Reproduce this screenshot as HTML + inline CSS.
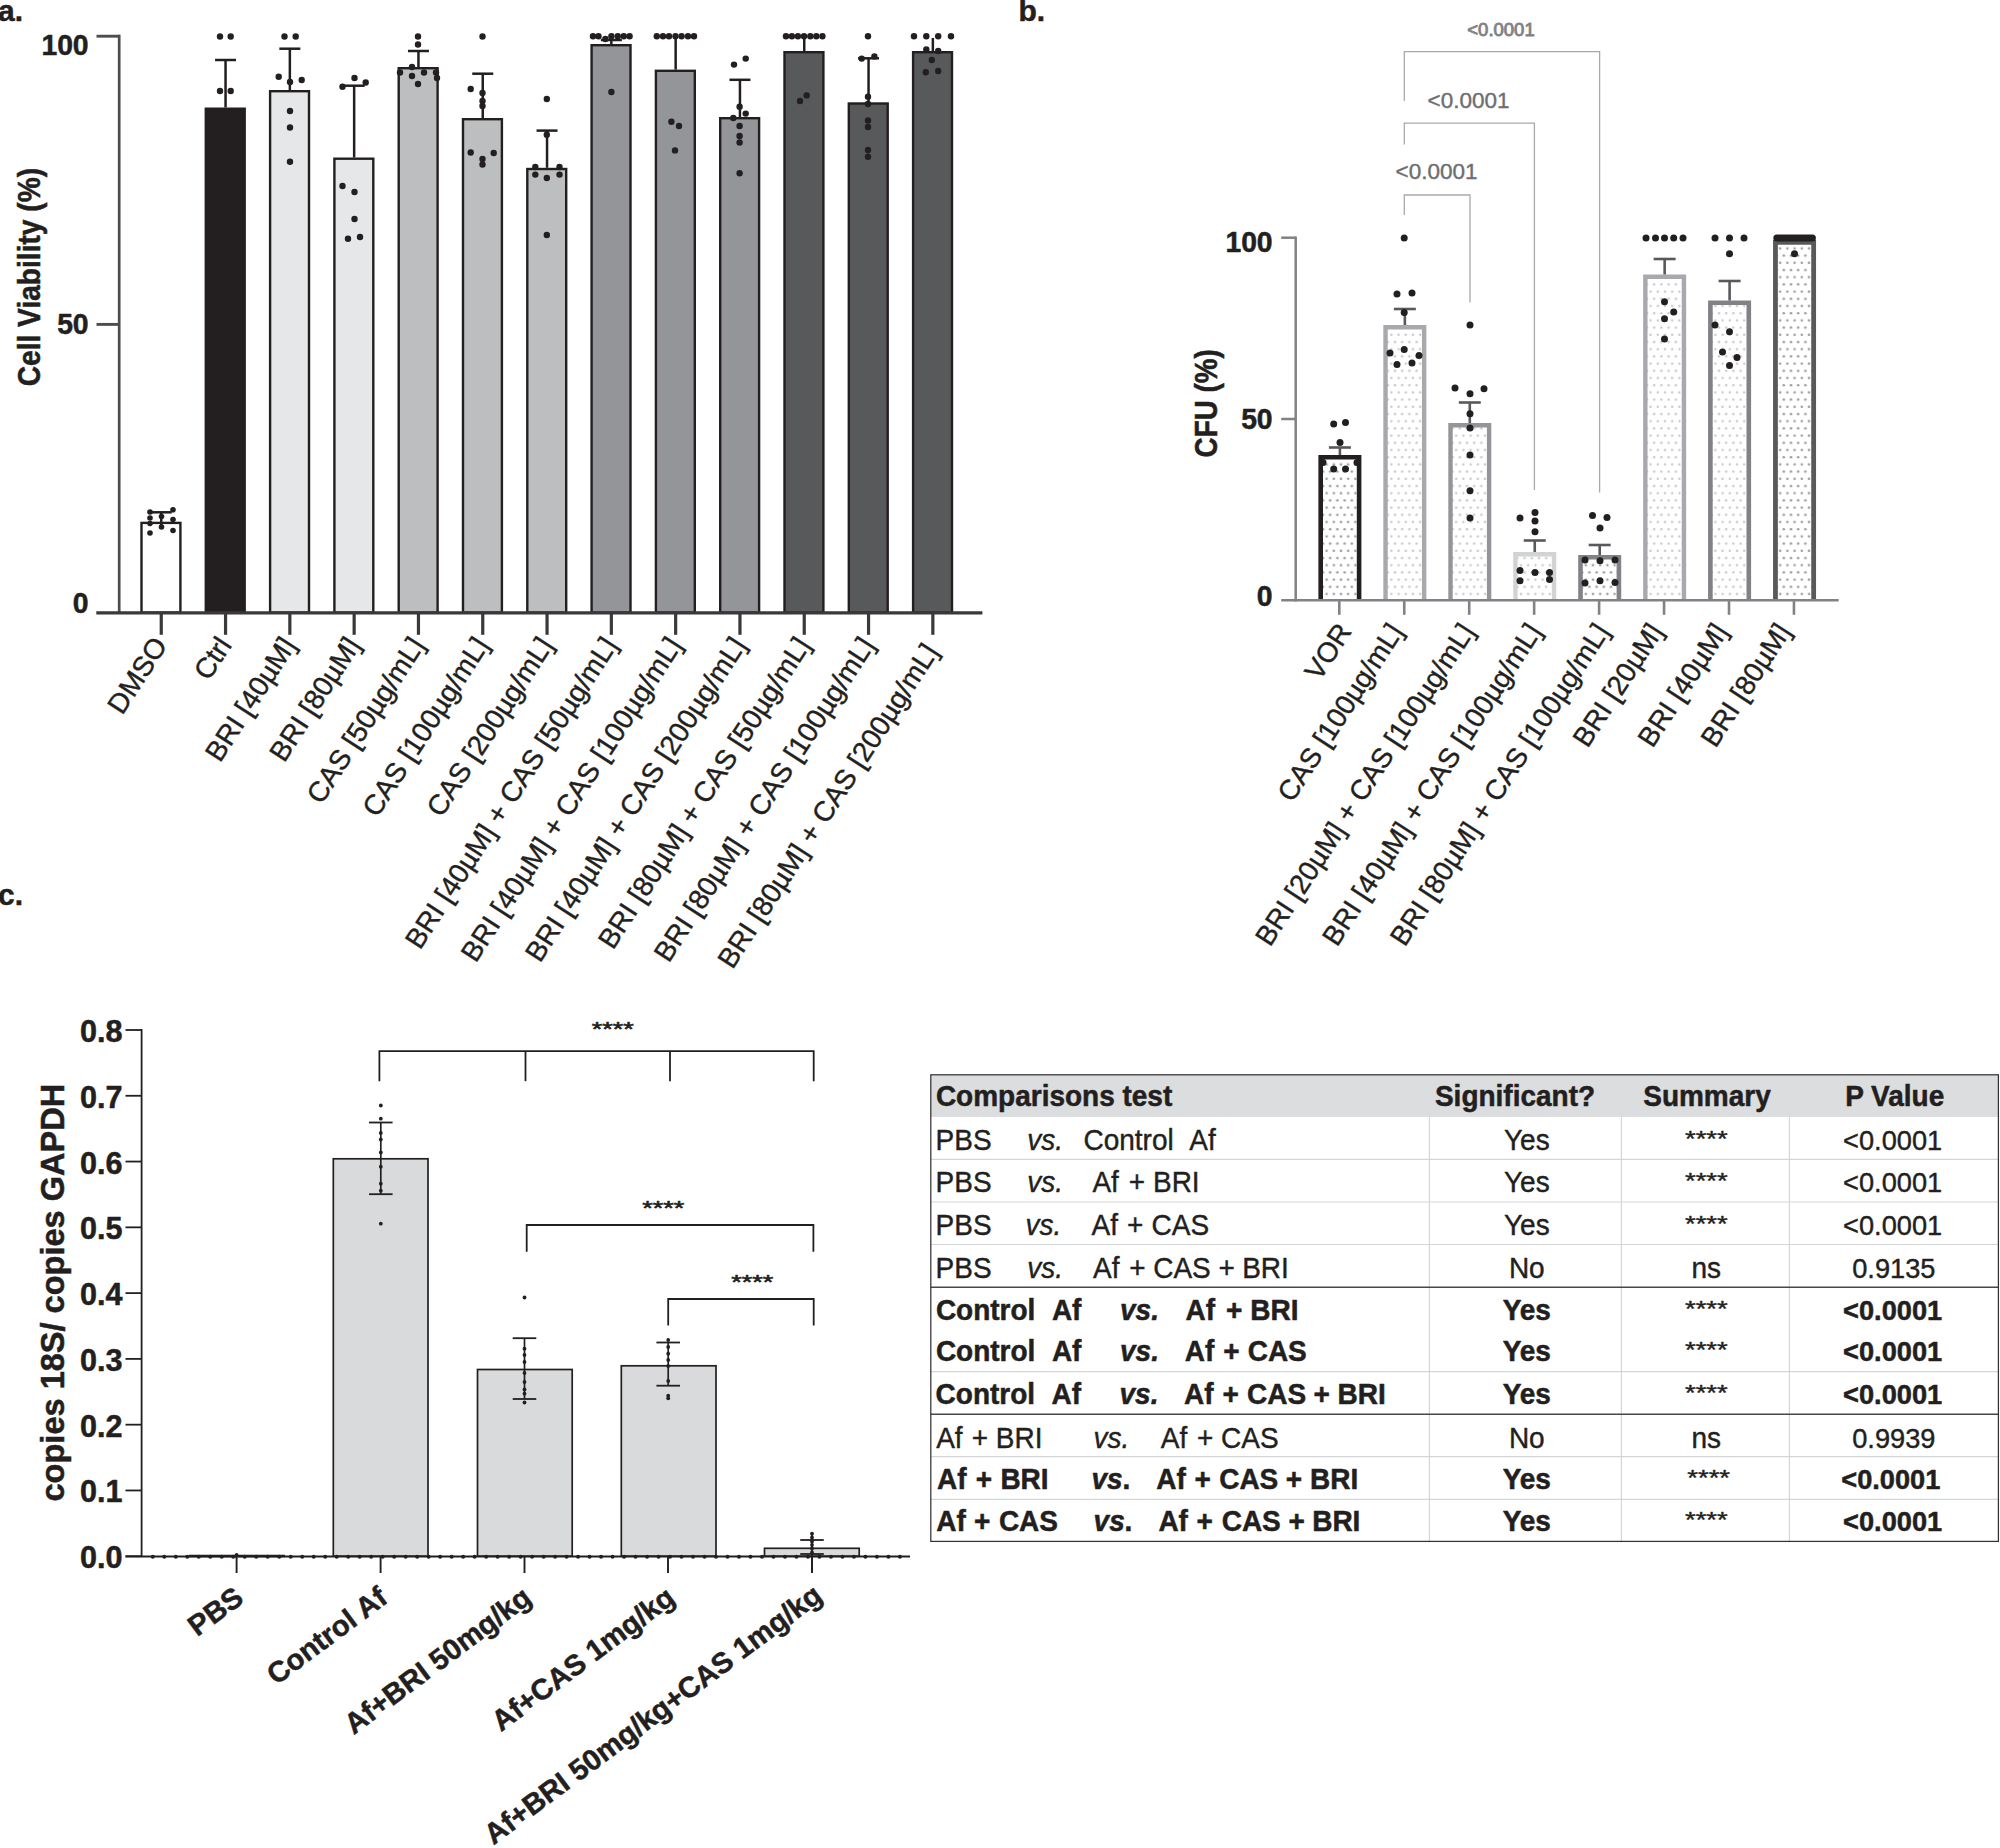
<!DOCTYPE html>
<html lang="en"><head><meta charset="utf-8"><title>Figure</title>
<style>html,body{margin:0;padding:0;background:#fff;}svg{display:block;}text{font-family:"Liberation Sans",sans-serif;}</style></head>
<body>
<svg width="2000" height="1848" viewBox="0 0 2000 1848">
<defs><pattern id="dl" width="7.2" height="14.4" patternUnits="userSpaceOnUse"><rect width="7.2" height="14.4" fill="#fff"/><circle cx="1.8" cy="3.6" r="1.25" fill="#c9cacc"/><circle cx="5.4" cy="10.8" r="1.25" fill="#c9cacc"/></pattern><pattern id="dd" width="7.2" height="14.4" patternUnits="userSpaceOnUse"><rect width="7.2" height="14.4" fill="#fff"/><circle cx="1.8" cy="3.6" r="1.3" fill="#9b9da0"/><circle cx="5.4" cy="10.8" r="1.3" fill="#9b9da0"/></pattern></defs>
<rect width="2000" height="1848" fill="#fff"/>
<g id="panel-a">
<text x="-2.00" y="20.50" font-size="30" font-weight="bold" fill="#231f20"  stroke="#231f20" stroke-width="0.5" stroke-linejoin="round">a.</text>
<text transform="translate(39.90 386.30) rotate(-90) scale(1 1.1)" font-size="28.15" font-weight="bold" fill="#231f20"  stroke="#231f20" stroke-width="0.5" stroke-linejoin="round">Cell Viability (%)</text>
<text transform="translate(88.60 54.60) scale(1 1.04)" font-size="28.3" font-weight="bold" text-anchor="end" fill="#231f20"  stroke="#231f20" stroke-width="0.5" stroke-linejoin="round">100</text>
<text transform="translate(88.60 333.80) scale(1 1.04)" font-size="28.3" font-weight="bold" text-anchor="end" fill="#231f20"  stroke="#231f20" stroke-width="0.5" stroke-linejoin="round">50</text>
<text transform="translate(88.60 613.20) scale(1 1.04)" font-size="28.3" font-weight="bold" text-anchor="end" fill="#231f20"  stroke="#231f20" stroke-width="0.5" stroke-linejoin="round">0</text>
<rect x="141.50" y="522.90" width="38.90" height="89.70" fill="#ffffff" stroke="#231f20" stroke-width="2.4"/>
<rect x="205.80" y="108.70" width="38.90" height="503.90" fill="#231f20" stroke="#231f20" stroke-width="2.4"/>
<rect x="270.10" y="91.20" width="38.90" height="521.40" fill="#e6e7e8" stroke="#231f20" stroke-width="2.4"/>
<rect x="334.40" y="158.70" width="38.90" height="453.90" fill="#e6e7e8" stroke="#231f20" stroke-width="2.4"/>
<rect x="398.70" y="68.20" width="38.90" height="544.40" fill="#bcbec0" stroke="#231f20" stroke-width="2.4"/>
<rect x="463.00" y="119.20" width="38.90" height="493.40" fill="#bcbec0" stroke="#231f20" stroke-width="2.4"/>
<rect x="527.30" y="169.00" width="38.90" height="443.60" fill="#bcbec0" stroke="#231f20" stroke-width="2.4"/>
<rect x="591.60" y="45.20" width="38.90" height="567.40" fill="#939598" stroke="#231f20" stroke-width="2.4"/>
<rect x="655.90" y="70.80" width="38.90" height="541.80" fill="#939598" stroke="#231f20" stroke-width="2.4"/>
<rect x="720.20" y="118.20" width="38.90" height="494.40" fill="#939598" stroke="#231f20" stroke-width="2.4"/>
<rect x="784.50" y="52.20" width="38.90" height="560.40" fill="#58595b" stroke="#231f20" stroke-width="2.4"/>
<rect x="848.80" y="103.50" width="38.90" height="509.10" fill="#58595b" stroke="#231f20" stroke-width="2.4"/>
<rect x="913.10" y="52.20" width="38.90" height="560.40" fill="#58595b" stroke="#231f20" stroke-width="2.4"/>
<line x1="161.25" y1="512.30" x2="161.25" y2="527.00" stroke="#231f20" stroke-width="2.5" />
<line x1="150.75" y1="512.30" x2="171.75" y2="512.30" stroke="#231f20" stroke-width="2.5" />
<line x1="161.25" y1="612.60" x2="161.25" y2="634.80" stroke="#39383a" stroke-width="3.2" />
<text transform="translate(168.25 645.20) rotate(-57)" font-size="28.1" text-anchor="end" fill="#231f20"  stroke="#231f20" stroke-width="0.4" stroke-linejoin="round">DMSO</text>
<line x1="225.55" y1="60.00" x2="225.55" y2="107.50" stroke="#231f20" stroke-width="2.5" />
<line x1="215.05" y1="60.00" x2="236.05" y2="60.00" stroke="#231f20" stroke-width="2.5" />
<line x1="225.55" y1="612.60" x2="225.55" y2="634.80" stroke="#39383a" stroke-width="3.2" />
<text transform="translate(232.55 645.20) rotate(-57)" font-size="28.1" text-anchor="end" fill="#231f20"  stroke="#231f20" stroke-width="0.4" stroke-linejoin="round">Ctrl</text>
<line x1="289.85" y1="48.70" x2="289.85" y2="90.00" stroke="#231f20" stroke-width="2.5" />
<line x1="279.35" y1="48.70" x2="300.35" y2="48.70" stroke="#231f20" stroke-width="2.5" />
<line x1="289.85" y1="612.60" x2="289.85" y2="634.80" stroke="#39383a" stroke-width="3.2" />
<text transform="translate(296.85 645.20) rotate(-57)" font-size="28.1" text-anchor="end" fill="#231f20"  stroke="#231f20" stroke-width="0.4" stroke-linejoin="round">BRI [40µM]</text>
<line x1="354.15" y1="85.70" x2="354.15" y2="157.50" stroke="#231f20" stroke-width="2.5" />
<line x1="343.65" y1="85.70" x2="364.65" y2="85.70" stroke="#231f20" stroke-width="2.5" />
<line x1="354.15" y1="612.60" x2="354.15" y2="634.80" stroke="#39383a" stroke-width="3.2" />
<text transform="translate(361.15 645.20) rotate(-57)" font-size="28.1" text-anchor="end" fill="#231f20"  stroke="#231f20" stroke-width="0.4" stroke-linejoin="round">BRI [80µM]</text>
<line x1="418.45" y1="51.00" x2="418.45" y2="67.00" stroke="#231f20" stroke-width="2.5" />
<line x1="407.95" y1="51.00" x2="428.95" y2="51.00" stroke="#231f20" stroke-width="2.5" />
<line x1="418.45" y1="612.60" x2="418.45" y2="634.80" stroke="#39383a" stroke-width="3.2" />
<text transform="translate(425.45 645.20) rotate(-57)" font-size="28.1" text-anchor="end" fill="#231f20"  stroke="#231f20" stroke-width="0.4" stroke-linejoin="round">CAS [50µg/mL]</text>
<line x1="482.75" y1="73.70" x2="482.75" y2="118.00" stroke="#231f20" stroke-width="2.5" />
<line x1="472.25" y1="73.70" x2="493.25" y2="73.70" stroke="#231f20" stroke-width="2.5" />
<line x1="482.75" y1="612.60" x2="482.75" y2="634.80" stroke="#39383a" stroke-width="3.2" />
<text transform="translate(489.75 645.20) rotate(-57)" font-size="28.1" text-anchor="end" fill="#231f20"  stroke="#231f20" stroke-width="0.4" stroke-linejoin="round">CAS [100µg/mL]</text>
<line x1="547.05" y1="130.60" x2="547.05" y2="167.80" stroke="#231f20" stroke-width="2.5" />
<line x1="536.55" y1="130.60" x2="557.55" y2="130.60" stroke="#231f20" stroke-width="2.5" />
<line x1="547.05" y1="612.60" x2="547.05" y2="634.80" stroke="#39383a" stroke-width="3.2" />
<text transform="translate(554.05 645.20) rotate(-57)" font-size="28.1" text-anchor="end" fill="#231f20"  stroke="#231f20" stroke-width="0.4" stroke-linejoin="round">CAS [200µg/mL]</text>
<line x1="611.35" y1="40.00" x2="611.35" y2="44.00" stroke="#231f20" stroke-width="2.5" />
<line x1="600.85" y1="40.00" x2="621.85" y2="40.00" stroke="#231f20" stroke-width="2.5" />
<line x1="611.35" y1="612.60" x2="611.35" y2="634.80" stroke="#39383a" stroke-width="3.2" />
<text transform="translate(618.35 645.20) rotate(-57)" font-size="28.1" text-anchor="end" fill="#231f20"  stroke="#231f20" stroke-width="0.4" stroke-linejoin="round">BRI [40µM] + CAS [50µg/mL]</text>
<line x1="675.65" y1="36.50" x2="675.65" y2="69.60" stroke="#231f20" stroke-width="2.5" />
<line x1="675.65" y1="612.60" x2="675.65" y2="634.80" stroke="#39383a" stroke-width="3.2" />
<text transform="translate(682.65 645.20) rotate(-57)" font-size="28.1" text-anchor="end" fill="#231f20"  stroke="#231f20" stroke-width="0.4" stroke-linejoin="round">BRI [40µM] + CAS [100µg/mL]</text>
<line x1="739.95" y1="79.80" x2="739.95" y2="117.00" stroke="#231f20" stroke-width="2.5" />
<line x1="729.45" y1="79.80" x2="750.45" y2="79.80" stroke="#231f20" stroke-width="2.5" />
<line x1="739.95" y1="612.60" x2="739.95" y2="634.80" stroke="#39383a" stroke-width="3.2" />
<text transform="translate(746.95 645.20) rotate(-57)" font-size="28.1" text-anchor="end" fill="#231f20"  stroke="#231f20" stroke-width="0.4" stroke-linejoin="round">BRI [40µM] + CAS [200µg/mL]</text>
<line x1="804.25" y1="36.50" x2="804.25" y2="51.00" stroke="#231f20" stroke-width="2.5" />
<line x1="804.25" y1="612.60" x2="804.25" y2="634.80" stroke="#39383a" stroke-width="3.2" />
<text transform="translate(811.25 645.20) rotate(-57)" font-size="28.1" text-anchor="end" fill="#231f20"  stroke="#231f20" stroke-width="0.4" stroke-linejoin="round">BRI [80µM] + CAS [50µg/mL]</text>
<line x1="868.55" y1="58.30" x2="868.55" y2="102.30" stroke="#231f20" stroke-width="2.5" />
<line x1="858.05" y1="58.30" x2="879.05" y2="58.30" stroke="#231f20" stroke-width="2.5" />
<line x1="868.55" y1="612.60" x2="868.55" y2="634.80" stroke="#39383a" stroke-width="3.2" />
<text transform="translate(875.55 645.20) rotate(-57)" font-size="28.1" text-anchor="end" fill="#231f20"  stroke="#231f20" stroke-width="0.4" stroke-linejoin="round">BRI [80µM] + CAS [100µg/mL]</text>
<line x1="932.85" y1="38.00" x2="932.85" y2="51.00" stroke="#231f20" stroke-width="2.5" />
<line x1="932.85" y1="612.60" x2="932.85" y2="634.80" stroke="#39383a" stroke-width="3.2" />
<text transform="translate(939.25 651.80) rotate(-57)" font-size="28.1" text-anchor="end" fill="#231f20"  stroke="#231f20" stroke-width="0.4" stroke-linejoin="round">BRI [80µM] + CAS [200µg/mL]</text>
<line x1="119.20" y1="34.80" x2="119.20" y2="614.10" stroke="#4d4d4f" stroke-width="2.7" />
<line x1="96.50" y1="36.20" x2="119.50" y2="36.20" stroke="#4d4d4f" stroke-width="2.9" />
<line x1="96.50" y1="324.40" x2="119.50" y2="324.40" stroke="#4d4d4f" stroke-width="2.9" />
<line x1="96.30" y1="612.80" x2="982.40" y2="612.80" stroke="#39383a" stroke-width="3.2" />
<circle cx="150.00" cy="512.00" r="2.8" fill="#231f20"/>
<circle cx="173.00" cy="509.80" r="2.8" fill="#231f20"/>
<circle cx="150.00" cy="518.00" r="2.8" fill="#231f20"/>
<circle cx="150.00" cy="523.50" r="2.8" fill="#231f20"/>
<circle cx="173.00" cy="519.50" r="2.8" fill="#231f20"/>
<circle cx="161.50" cy="516.50" r="2.8" fill="#231f20"/>
<circle cx="161.50" cy="527.00" r="2.8" fill="#231f20"/>
<circle cx="150.00" cy="533.00" r="2.8" fill="#231f20"/>
<circle cx="173.00" cy="530.50" r="2.8" fill="#231f20"/>
<circle cx="220.00" cy="36.50" r="3.2" fill="#231f20"/>
<circle cx="230.70" cy="36.50" r="3.2" fill="#231f20"/>
<circle cx="220.00" cy="91.00" r="3.2" fill="#231f20"/>
<circle cx="230.70" cy="91.00" r="3.2" fill="#231f20"/>
<circle cx="284.50" cy="36.50" r="3.2" fill="#231f20"/>
<circle cx="295.70" cy="36.50" r="3.2" fill="#231f20"/>
<circle cx="278.70" cy="76.70" r="3.2" fill="#231f20"/>
<circle cx="290.00" cy="82.00" r="3.2" fill="#231f20"/>
<circle cx="301.70" cy="80.00" r="3.2" fill="#231f20"/>
<circle cx="290.00" cy="111.00" r="3.2" fill="#231f20"/>
<circle cx="290.00" cy="127.50" r="3.2" fill="#231f20"/>
<circle cx="290.00" cy="161.70" r="3.2" fill="#231f20"/>
<circle cx="354.50" cy="78.00" r="3.2" fill="#231f20"/>
<circle cx="342.50" cy="86.70" r="3.2" fill="#231f20"/>
<circle cx="365.70" cy="82.50" r="3.2" fill="#231f20"/>
<circle cx="342.50" cy="186.00" r="3.2" fill="#231f20"/>
<circle cx="354.50" cy="192.00" r="3.2" fill="#231f20"/>
<circle cx="354.50" cy="219.00" r="3.2" fill="#231f20"/>
<circle cx="348.00" cy="238.70" r="3.2" fill="#231f20"/>
<circle cx="360.00" cy="237.00" r="3.2" fill="#231f20"/>
<circle cx="418.00" cy="36.50" r="3.2" fill="#231f20"/>
<circle cx="418.00" cy="44.50" r="3.2" fill="#231f20"/>
<circle cx="412.00" cy="67.00" r="3.2" fill="#231f20"/>
<circle cx="400.00" cy="72.50" r="3.2" fill="#231f20"/>
<circle cx="424.00" cy="72.50" r="3.2" fill="#231f20"/>
<circle cx="436.00" cy="72.50" r="3.2" fill="#231f20"/>
<circle cx="412.00" cy="76.00" r="3.2" fill="#231f20"/>
<circle cx="418.00" cy="84.00" r="3.2" fill="#231f20"/>
<circle cx="437.00" cy="78.00" r="3.2" fill="#231f20"/>
<circle cx="482.50" cy="36.50" r="3.2" fill="#231f20"/>
<circle cx="470.70" cy="89.00" r="3.2" fill="#231f20"/>
<circle cx="482.50" cy="93.00" r="3.2" fill="#231f20"/>
<circle cx="482.50" cy="101.00" r="3.2" fill="#231f20"/>
<circle cx="482.50" cy="106.00" r="3.2" fill="#231f20"/>
<circle cx="470.70" cy="152.50" r="3.2" fill="#231f20"/>
<circle cx="493.70" cy="153.00" r="3.2" fill="#231f20"/>
<circle cx="482.50" cy="159.00" r="3.2" fill="#231f20"/>
<circle cx="482.50" cy="164.50" r="3.2" fill="#231f20"/>
<circle cx="546.80" cy="99.00" r="3.2" fill="#231f20"/>
<circle cx="546.80" cy="134.80" r="3.2" fill="#231f20"/>
<circle cx="535.30" cy="167.00" r="3.2" fill="#231f20"/>
<circle cx="559.50" cy="167.00" r="3.2" fill="#231f20"/>
<circle cx="535.30" cy="174.60" r="3.2" fill="#231f20"/>
<circle cx="546.80" cy="178.00" r="3.2" fill="#231f20"/>
<circle cx="559.50" cy="174.60" r="3.2" fill="#231f20"/>
<circle cx="546.80" cy="235.00" r="3.2" fill="#231f20"/>
<circle cx="593.00" cy="36.30" r="3.2" fill="#231f20"/>
<circle cx="598.50" cy="36.30" r="3.2" fill="#231f20"/>
<circle cx="605.40" cy="39.00" r="3.2" fill="#231f20"/>
<circle cx="611.40" cy="36.30" r="3.2" fill="#231f20"/>
<circle cx="617.80" cy="36.30" r="3.2" fill="#231f20"/>
<circle cx="623.80" cy="36.30" r="3.2" fill="#231f20"/>
<circle cx="629.60" cy="36.30" r="3.2" fill="#231f20"/>
<circle cx="611.40" cy="92.00" r="3.2" fill="#231f20"/>
<circle cx="656.80" cy="36.30" r="3.2" fill="#231f20"/>
<circle cx="663.00" cy="36.30" r="3.2" fill="#231f20"/>
<circle cx="669.00" cy="36.30" r="3.2" fill="#231f20"/>
<circle cx="675.50" cy="36.30" r="3.2" fill="#231f20"/>
<circle cx="681.60" cy="36.30" r="3.2" fill="#231f20"/>
<circle cx="688.00" cy="36.30" r="3.2" fill="#231f20"/>
<circle cx="694.00" cy="36.30" r="3.2" fill="#231f20"/>
<circle cx="671.40" cy="121.80" r="3.2" fill="#231f20"/>
<circle cx="679.00" cy="126.00" r="3.2" fill="#231f20"/>
<circle cx="675.00" cy="150.40" r="3.2" fill="#231f20"/>
<circle cx="734.00" cy="64.60" r="3.2" fill="#231f20"/>
<circle cx="745.70" cy="58.60" r="3.2" fill="#231f20"/>
<circle cx="739.60" cy="106.70" r="3.2" fill="#231f20"/>
<circle cx="745.70" cy="113.60" r="3.2" fill="#231f20"/>
<circle cx="733.30" cy="118.00" r="3.2" fill="#231f20"/>
<circle cx="739.60" cy="126.00" r="3.2" fill="#231f20"/>
<circle cx="739.60" cy="136.00" r="3.2" fill="#231f20"/>
<circle cx="739.60" cy="142.50" r="3.2" fill="#231f20"/>
<circle cx="739.60" cy="173.30" r="3.2" fill="#231f20"/>
<circle cx="786.00" cy="36.30" r="3.2" fill="#231f20"/>
<circle cx="791.90" cy="36.30" r="3.2" fill="#231f20"/>
<circle cx="797.90" cy="36.30" r="3.2" fill="#231f20"/>
<circle cx="804.00" cy="36.30" r="3.2" fill="#231f20"/>
<circle cx="810.30" cy="36.30" r="3.2" fill="#231f20"/>
<circle cx="816.30" cy="36.30" r="3.2" fill="#231f20"/>
<circle cx="822.40" cy="36.30" r="3.2" fill="#231f20"/>
<circle cx="806.70" cy="95.40" r="3.2" fill="#231f20"/>
<circle cx="800.00" cy="101.00" r="3.2" fill="#231f20"/>
<circle cx="868.00" cy="36.30" r="3.2" fill="#231f20"/>
<circle cx="861.70" cy="58.60" r="3.2" fill="#231f20"/>
<circle cx="874.40" cy="56.40" r="3.2" fill="#231f20"/>
<circle cx="868.00" cy="96.80" r="3.2" fill="#231f20"/>
<circle cx="868.00" cy="104.00" r="3.2" fill="#231f20"/>
<circle cx="868.00" cy="120.50" r="3.2" fill="#231f20"/>
<circle cx="868.00" cy="127.00" r="3.2" fill="#231f20"/>
<circle cx="868.00" cy="150.00" r="3.2" fill="#231f20"/>
<circle cx="868.00" cy="156.80" r="3.2" fill="#231f20"/>
<circle cx="914.00" cy="36.30" r="3.2" fill="#231f20"/>
<circle cx="926.30" cy="36.30" r="3.2" fill="#231f20"/>
<circle cx="938.20" cy="36.30" r="3.2" fill="#231f20"/>
<circle cx="951.00" cy="36.30" r="3.2" fill="#231f20"/>
<circle cx="926.30" cy="49.50" r="3.2" fill="#231f20"/>
<circle cx="938.20" cy="51.00" r="3.2" fill="#231f20"/>
<circle cx="931.80" cy="60.00" r="3.2" fill="#231f20"/>
<circle cx="925.80" cy="72.30" r="3.2" fill="#231f20"/>
<circle cx="938.20" cy="71.00" r="3.2" fill="#231f20"/>
</g>
<g id="panel-b">
<text x="1018.50" y="20.50" font-size="30" font-weight="bold" fill="#231f20"  stroke="#231f20" stroke-width="0.5" stroke-linejoin="round">b.</text>
<text transform="translate(1217.10 457.40) rotate(-90) scale(1 1.1)" font-size="27.8" font-weight="bold" fill="#231f20"  stroke="#231f20" stroke-width="0.5" stroke-linejoin="round">CFU (%)</text>
<text transform="translate(1272.60 252.20) scale(1 1.04)" font-size="28.3" font-weight="bold" text-anchor="end" fill="#231f20"  stroke="#231f20" stroke-width="0.5" stroke-linejoin="round">100</text>
<text transform="translate(1272.60 428.90) scale(1 1.04)" font-size="28.3" font-weight="bold" text-anchor="end" fill="#231f20"  stroke="#231f20" stroke-width="0.5" stroke-linejoin="round">50</text>
<text transform="translate(1272.60 606.20) scale(1 1.04)" font-size="28.3" font-weight="bold" text-anchor="end" fill="#231f20"  stroke="#231f20" stroke-width="0.5" stroke-linejoin="round">0</text>
<polyline fill="none" stroke="#a7a9ac" stroke-width="1.3" points="1404.30,101.00 1404.30,51.70 1599.60,51.70 1599.60,492.50"/>
<polyline fill="none" stroke="#a7a9ac" stroke-width="1.3" points="1404.30,144.50 1404.30,123.20 1534.40,123.20 1534.40,490.00"/>
<polyline fill="none" stroke="#a7a9ac" stroke-width="1.3" points="1404.30,215.00 1404.30,195.00 1470.00,195.00 1470.00,302.50"/>
<text x="1501.00" y="36.20" font-size="18.5" text-anchor="middle" fill="#808285"  stroke="#808285" stroke-width="0.9" stroke-linejoin="round">&lt;0.0001</text>
<text x="1468.50" y="108.00" font-size="22.5" text-anchor="middle" fill="#6d6e71"  stroke="#6d6e71" stroke-width="0.4" stroke-linejoin="round">&lt;0.0001</text>
<text x="1436.50" y="178.70" font-size="22.5" text-anchor="middle" fill="#6d6e71"  stroke="#6d6e71" stroke-width="0.4" stroke-linejoin="round">&lt;0.0001</text>
<rect x="1320.70" y="457.30" width="38.40" height="143.00" fill="url(#dd)"/>
<polyline fill="none" stroke="#231f20" stroke-width="4.6" points="1320.70,600.30 1320.70,457.30 1359.10,457.30 1359.10,600.30"/>
<rect x="1385.55" y="327.20" width="38.60" height="273.10" fill="url(#dl)"/>
<polyline fill="none" stroke="#a7a9ac" stroke-width="4.4" points="1385.55,600.30 1385.55,327.20 1424.15,327.20 1424.15,600.30"/>
<rect x="1450.50" y="425.20" width="38.60" height="175.10" fill="url(#dl)"/>
<polyline fill="none" stroke="#939598" stroke-width="4.4" points="1450.50,600.30 1450.50,425.20 1489.10,425.20 1489.10,600.30"/>
<rect x="1515.45" y="554.20" width="38.60" height="46.10" fill="url(#dl)"/>
<polyline fill="none" stroke="#d1d3d4" stroke-width="4.4" points="1515.45,600.30 1515.45,554.20 1554.05,554.20 1554.05,600.30"/>
<rect x="1580.50" y="557.30" width="38.40" height="43.00" fill="url(#dd)"/>
<polyline fill="none" stroke="#808285" stroke-width="4.6" points="1580.50,600.30 1580.50,557.30 1618.90,557.30 1618.90,600.30"/>
<rect x="1645.35" y="276.70" width="38.60" height="323.60" fill="url(#dl)"/>
<polyline fill="none" stroke="#a7a9ac" stroke-width="4.4" points="1645.35,600.30 1645.35,276.70 1683.95,276.70 1683.95,600.30"/>
<rect x="1710.40" y="302.80" width="38.40" height="297.50" fill="url(#dl)"/>
<polyline fill="none" stroke="#808285" stroke-width="4.6" points="1710.40,600.30 1710.40,302.80 1748.80,302.80 1748.80,600.30"/>
<rect x="1775.45" y="242.40" width="38.20" height="357.90" fill="url(#dd)"/>
<polyline fill="none" stroke="#58595b" stroke-width="4.8" points="1775.45,600.30 1775.45,242.40 1813.65,242.40 1813.65,600.30"/>
<line x1="1339.90" y1="447.50" x2="1339.90" y2="455.00" stroke="#58595b" stroke-width="2.6" />
<line x1="1328.90" y1="447.50" x2="1350.90" y2="447.50" stroke="#58595b" stroke-width="2.6" />
<line x1="1339.30" y1="600.30" x2="1339.30" y2="614.80" stroke="#808285" stroke-width="2.6" />
<text transform="translate(1352.45 631.40) rotate(-57)" font-size="27.9" text-anchor="end" fill="#231f20"  stroke="#231f20" stroke-width="0.4" stroke-linejoin="round">VOR</text>
<line x1="1404.85" y1="309.00" x2="1404.85" y2="325.00" stroke="#58595b" stroke-width="2.6" />
<line x1="1393.85" y1="309.00" x2="1415.85" y2="309.00" stroke="#58595b" stroke-width="2.6" />
<line x1="1404.25" y1="600.30" x2="1404.25" y2="614.80" stroke="#808285" stroke-width="2.6" />
<text transform="translate(1404.10 631.40) rotate(-57)" font-size="27.9" text-anchor="end" fill="#231f20"  stroke="#231f20" stroke-width="0.4" stroke-linejoin="round">CAS [100µg/mL]</text>
<line x1="1469.80" y1="402.50" x2="1469.80" y2="423.00" stroke="#58595b" stroke-width="2.6" />
<line x1="1458.80" y1="402.50" x2="1480.80" y2="402.50" stroke="#58595b" stroke-width="2.6" />
<line x1="1469.20" y1="600.30" x2="1469.20" y2="614.80" stroke="#808285" stroke-width="2.6" />
<text transform="translate(1475.35 631.40) rotate(-57)" font-size="27.9" text-anchor="end" fill="#231f20"  stroke="#231f20" stroke-width="0.4" stroke-linejoin="round">BRI [20µM] + CAS [100µg/mL]</text>
<line x1="1534.75" y1="540.50" x2="1534.75" y2="552.00" stroke="#58595b" stroke-width="2.6" />
<line x1="1523.75" y1="540.50" x2="1545.75" y2="540.50" stroke="#58595b" stroke-width="2.6" />
<line x1="1534.15" y1="600.30" x2="1534.15" y2="614.80" stroke="#808285" stroke-width="2.6" />
<text transform="translate(1542.40 631.40) rotate(-57)" font-size="27.9" text-anchor="end" fill="#231f20"  stroke="#231f20" stroke-width="0.4" stroke-linejoin="round">BRI [40µM] + CAS [100µg/mL]</text>
<line x1="1599.70" y1="545.00" x2="1599.70" y2="555.00" stroke="#58595b" stroke-width="2.6" />
<line x1="1588.70" y1="545.00" x2="1610.70" y2="545.00" stroke="#58595b" stroke-width="2.6" />
<line x1="1599.10" y1="600.30" x2="1599.10" y2="614.80" stroke="#808285" stroke-width="2.6" />
<text transform="translate(1610.15 631.40) rotate(-57)" font-size="27.9" text-anchor="end" fill="#231f20"  stroke="#231f20" stroke-width="0.4" stroke-linejoin="round">BRI [80µM] + CAS [100µg/mL]</text>
<line x1="1664.65" y1="259.00" x2="1664.65" y2="274.50" stroke="#58595b" stroke-width="2.6" />
<line x1="1653.65" y1="259.00" x2="1675.65" y2="259.00" stroke="#58595b" stroke-width="2.6" />
<line x1="1664.05" y1="600.30" x2="1664.05" y2="614.80" stroke="#808285" stroke-width="2.6" />
<text transform="translate(1663.90 631.40) rotate(-57)" font-size="27.9" text-anchor="end" fill="#231f20"  stroke="#231f20" stroke-width="0.4" stroke-linejoin="round">BRI [20µM]</text>
<line x1="1729.60" y1="281.00" x2="1729.60" y2="300.50" stroke="#58595b" stroke-width="2.6" />
<line x1="1718.60" y1="281.00" x2="1740.60" y2="281.00" stroke="#58595b" stroke-width="2.6" />
<line x1="1729.00" y1="600.30" x2="1729.00" y2="614.80" stroke="#808285" stroke-width="2.6" />
<text transform="translate(1728.85 631.40) rotate(-57)" font-size="27.9" text-anchor="end" fill="#231f20"  stroke="#231f20" stroke-width="0.4" stroke-linejoin="round">BRI [40µM]</text>
<line x1="1793.95" y1="600.30" x2="1793.95" y2="614.80" stroke="#808285" stroke-width="2.6" />
<text transform="translate(1791.70 631.40) rotate(-57)" font-size="27.9" text-anchor="end" fill="#231f20"  stroke="#231f20" stroke-width="0.4" stroke-linejoin="round">BRI [80µM]</text>
<line x1="1295.70" y1="236.50" x2="1295.70" y2="601.50" stroke="#808285" stroke-width="2.5" />
<line x1="1281.20" y1="237.70" x2="1295.70" y2="237.70" stroke="#808285" stroke-width="2.5" />
<line x1="1281.20" y1="419.00" x2="1295.70" y2="419.00" stroke="#808285" stroke-width="2.5" />
<line x1="1281.20" y1="600.30" x2="1838.70" y2="600.30" stroke="#808285" stroke-width="2.5" />
<circle cx="1333.70" cy="424.00" r="3.5" fill="#231f20"/>
<circle cx="1345.50" cy="422.50" r="3.5" fill="#231f20"/>
<circle cx="1340.00" cy="442.50" r="3.5" fill="#231f20"/>
<circle cx="1323.00" cy="462.50" r="3.5" fill="#231f20"/>
<circle cx="1357.00" cy="462.50" r="3.5" fill="#231f20"/>
<circle cx="1333.70" cy="469.00" r="3.5" fill="#231f20"/>
<circle cx="1345.50" cy="469.00" r="3.5" fill="#231f20"/>
<circle cx="1404.20" cy="238.00" r="3.5" fill="#231f20"/>
<circle cx="1397.00" cy="294.00" r="3.5" fill="#231f20"/>
<circle cx="1412.00" cy="293.00" r="3.5" fill="#231f20"/>
<circle cx="1404.20" cy="312.50" r="3.5" fill="#231f20"/>
<circle cx="1390.00" cy="353.00" r="3.5" fill="#231f20"/>
<circle cx="1404.20" cy="349.50" r="3.5" fill="#231f20"/>
<circle cx="1419.00" cy="355.50" r="3.5" fill="#231f20"/>
<circle cx="1397.00" cy="364.50" r="3.5" fill="#231f20"/>
<circle cx="1412.00" cy="363.00" r="3.5" fill="#231f20"/>
<circle cx="1470.00" cy="325.00" r="3.5" fill="#231f20"/>
<circle cx="1455.00" cy="388.00" r="3.5" fill="#231f20"/>
<circle cx="1484.00" cy="388.70" r="3.5" fill="#231f20"/>
<circle cx="1470.00" cy="393.70" r="3.5" fill="#231f20"/>
<circle cx="1470.00" cy="413.70" r="3.5" fill="#231f20"/>
<circle cx="1470.00" cy="428.00" r="3.5" fill="#231f20"/>
<circle cx="1470.00" cy="455.00" r="3.5" fill="#231f20"/>
<circle cx="1470.00" cy="490.70" r="3.5" fill="#231f20"/>
<circle cx="1470.00" cy="518.00" r="3.5" fill="#231f20"/>
<circle cx="1520.00" cy="518.00" r="3.5" fill="#231f20"/>
<circle cx="1535.00" cy="512.50" r="3.5" fill="#231f20"/>
<circle cx="1535.00" cy="521.00" r="3.5" fill="#231f20"/>
<circle cx="1535.00" cy="531.70" r="3.5" fill="#231f20"/>
<circle cx="1520.00" cy="570.50" r="3.5" fill="#231f20"/>
<circle cx="1535.00" cy="572.50" r="3.5" fill="#231f20"/>
<circle cx="1549.50" cy="572.50" r="3.5" fill="#231f20"/>
<circle cx="1520.00" cy="580.70" r="3.5" fill="#231f20"/>
<circle cx="1549.50" cy="579.50" r="3.5" fill="#231f20"/>
<circle cx="1592.50" cy="515.50" r="3.5" fill="#231f20"/>
<circle cx="1607.00" cy="517.50" r="3.5" fill="#231f20"/>
<circle cx="1600.00" cy="528.00" r="3.5" fill="#231f20"/>
<circle cx="1585.00" cy="560.00" r="3.5" fill="#231f20"/>
<circle cx="1600.00" cy="560.70" r="3.5" fill="#231f20"/>
<circle cx="1615.00" cy="560.00" r="3.5" fill="#231f20"/>
<circle cx="1585.00" cy="583.00" r="3.5" fill="#231f20"/>
<circle cx="1600.00" cy="580.70" r="3.5" fill="#231f20"/>
<circle cx="1615.00" cy="582.50" r="3.5" fill="#231f20"/>
<circle cx="1646.00" cy="238.00" r="3.5" fill="#231f20"/>
<circle cx="1655.50" cy="238.00" r="3.5" fill="#231f20"/>
<circle cx="1664.50" cy="238.00" r="3.5" fill="#231f20"/>
<circle cx="1673.70" cy="238.00" r="3.5" fill="#231f20"/>
<circle cx="1683.00" cy="238.00" r="3.5" fill="#231f20"/>
<circle cx="1664.50" cy="301.70" r="3.5" fill="#231f20"/>
<circle cx="1673.70" cy="312.00" r="3.5" fill="#231f20"/>
<circle cx="1664.50" cy="318.70" r="3.5" fill="#231f20"/>
<circle cx="1664.50" cy="339.00" r="3.5" fill="#231f20"/>
<circle cx="1715.00" cy="238.00" r="3.5" fill="#231f20"/>
<circle cx="1729.50" cy="238.00" r="3.5" fill="#231f20"/>
<circle cx="1744.00" cy="238.00" r="3.5" fill="#231f20"/>
<circle cx="1729.50" cy="253.70" r="3.5" fill="#231f20"/>
<circle cx="1715.00" cy="325.00" r="3.5" fill="#231f20"/>
<circle cx="1729.50" cy="331.70" r="3.5" fill="#231f20"/>
<circle cx="1722.50" cy="352.00" r="3.5" fill="#231f20"/>
<circle cx="1737.00" cy="357.50" r="3.5" fill="#231f20"/>
<circle cx="1729.50" cy="365.50" r="3.5" fill="#231f20"/>
<circle cx="1794.50" cy="253.70" r="3.5" fill="#231f20"/>
<rect x="1773.3" y="234.5" width="42.6" height="7" rx="3.5" fill="#231f20"/>
</g>
<g id="panel-c">
<text x="-2.00" y="904.70" font-size="30" font-weight="bold" fill="#231f20"  stroke="#231f20" stroke-width="0.5" stroke-linejoin="round">c.</text>
<text transform="translate(64.30 1501.50) rotate(-90) scale(1 1.045)" font-size="32.55" font-weight="bold" fill="#231f20"  stroke="#231f20" stroke-width="0.5" stroke-linejoin="round">copies 18S/ copies GAPDH</text>
<line x1="125.50" y1="1030.00" x2="141.50" y2="1030.00" stroke="#231f20" stroke-width="1.8" />
<text transform="translate(122.60 1042.00) scale(1 1.045)" font-size="30.6" font-weight="bold" text-anchor="end" fill="#231f20"  stroke="#231f20" stroke-width="0.5" stroke-linejoin="round">0.8</text>
<line x1="125.50" y1="1095.78" x2="141.50" y2="1095.78" stroke="#231f20" stroke-width="1.8" />
<text transform="translate(122.60 1107.78) scale(1 1.045)" font-size="30.6" font-weight="bold" text-anchor="end" fill="#231f20"  stroke="#231f20" stroke-width="0.5" stroke-linejoin="round">0.7</text>
<line x1="125.50" y1="1161.56" x2="141.50" y2="1161.56" stroke="#231f20" stroke-width="1.8" />
<text transform="translate(122.60 1173.56) scale(1 1.045)" font-size="30.6" font-weight="bold" text-anchor="end" fill="#231f20"  stroke="#231f20" stroke-width="0.5" stroke-linejoin="round">0.6</text>
<line x1="125.50" y1="1227.34" x2="141.50" y2="1227.34" stroke="#231f20" stroke-width="1.8" />
<text transform="translate(122.60 1239.34) scale(1 1.045)" font-size="30.6" font-weight="bold" text-anchor="end" fill="#231f20"  stroke="#231f20" stroke-width="0.5" stroke-linejoin="round">0.5</text>
<line x1="125.50" y1="1293.12" x2="141.50" y2="1293.12" stroke="#231f20" stroke-width="1.8" />
<text transform="translate(122.60 1305.12) scale(1 1.045)" font-size="30.6" font-weight="bold" text-anchor="end" fill="#231f20"  stroke="#231f20" stroke-width="0.5" stroke-linejoin="round">0.4</text>
<line x1="125.50" y1="1358.90" x2="141.50" y2="1358.90" stroke="#231f20" stroke-width="1.8" />
<text transform="translate(122.60 1370.90) scale(1 1.045)" font-size="30.6" font-weight="bold" text-anchor="end" fill="#231f20"  stroke="#231f20" stroke-width="0.5" stroke-linejoin="round">0.3</text>
<line x1="125.50" y1="1424.68" x2="141.50" y2="1424.68" stroke="#231f20" stroke-width="1.8" />
<text transform="translate(122.60 1436.68) scale(1 1.045)" font-size="30.6" font-weight="bold" text-anchor="end" fill="#231f20"  stroke="#231f20" stroke-width="0.5" stroke-linejoin="round">0.2</text>
<line x1="125.50" y1="1490.46" x2="141.50" y2="1490.46" stroke="#231f20" stroke-width="1.8" />
<text transform="translate(122.60 1502.46) scale(1 1.045)" font-size="30.6" font-weight="bold" text-anchor="end" fill="#231f20"  stroke="#231f20" stroke-width="0.5" stroke-linejoin="round">0.1</text>
<line x1="125.50" y1="1556.24" x2="141.50" y2="1556.24" stroke="#231f20" stroke-width="1.8" />
<text transform="translate(122.60 1568.24) scale(1 1.045)" font-size="30.6" font-weight="bold" text-anchor="end" fill="#231f20"  stroke="#231f20" stroke-width="0.5" stroke-linejoin="round">0.0</text>
<rect x="333.30" y="1158.80" width="94.70" height="397.40" fill="#d9dadb" stroke="#231f20" stroke-width="1.7"/>
<rect x="477.50" y="1369.50" width="94.70" height="186.70" fill="#d9dadb" stroke="#231f20" stroke-width="1.7"/>
<rect x="621.30" y="1365.80" width="94.70" height="190.40" fill="#d9dadb" stroke="#231f20" stroke-width="1.7"/>
<rect x="764.50" y="1548.30" width="94.70" height="7.90" fill="#d9dadb" stroke="#231f20" stroke-width="1.7"/>
<line x1="141.60" y1="1029.10" x2="141.60" y2="1557.10" stroke="#231f20" stroke-width="1.8" />
<line x1="125.50" y1="1556.50" x2="910.00" y2="1556.50" stroke="#231f20" stroke-width="1.9" />
<line x1="189.00" y1="1556.00" x2="285.00" y2="1556.00" stroke="#231f20" stroke-width="2.6" />
<circle cx="152.80" cy="1556.80" r="2.0" fill="#231f20"/>
<circle cx="164.29" cy="1556.80" r="2.0" fill="#231f20"/>
<circle cx="175.79" cy="1556.80" r="2.0" fill="#231f20"/>
<circle cx="187.28" cy="1556.80" r="2.0" fill="#231f20"/>
<circle cx="198.78" cy="1556.80" r="2.0" fill="#231f20"/>
<circle cx="210.27" cy="1556.80" r="2.0" fill="#231f20"/>
<circle cx="221.76" cy="1556.80" r="2.0" fill="#231f20"/>
<circle cx="233.26" cy="1556.80" r="2.0" fill="#231f20"/>
<circle cx="244.75" cy="1556.80" r="2.0" fill="#231f20"/>
<circle cx="256.25" cy="1556.80" r="2.0" fill="#231f20"/>
<circle cx="267.74" cy="1556.80" r="2.0" fill="#231f20"/>
<circle cx="279.23" cy="1556.80" r="2.0" fill="#231f20"/>
<circle cx="290.73" cy="1556.80" r="2.0" fill="#231f20"/>
<circle cx="302.22" cy="1556.80" r="2.0" fill="#231f20"/>
<circle cx="313.72" cy="1556.80" r="2.0" fill="#231f20"/>
<circle cx="325.21" cy="1556.80" r="2.0" fill="#231f20"/>
<circle cx="336.70" cy="1556.80" r="2.0" fill="#231f20"/>
<circle cx="348.20" cy="1556.80" r="2.0" fill="#231f20"/>
<circle cx="359.69" cy="1556.80" r="2.0" fill="#231f20"/>
<circle cx="371.19" cy="1556.80" r="2.0" fill="#231f20"/>
<circle cx="382.68" cy="1556.80" r="2.0" fill="#231f20"/>
<circle cx="394.17" cy="1556.80" r="2.0" fill="#231f20"/>
<circle cx="405.67" cy="1556.80" r="2.0" fill="#231f20"/>
<circle cx="417.16" cy="1556.80" r="2.0" fill="#231f20"/>
<circle cx="428.66" cy="1556.80" r="2.0" fill="#231f20"/>
<circle cx="440.15" cy="1556.80" r="2.0" fill="#231f20"/>
<circle cx="451.64" cy="1556.80" r="2.0" fill="#231f20"/>
<circle cx="463.14" cy="1556.80" r="2.0" fill="#231f20"/>
<circle cx="474.63" cy="1556.80" r="2.0" fill="#231f20"/>
<circle cx="486.13" cy="1556.80" r="2.0" fill="#231f20"/>
<circle cx="497.62" cy="1556.80" r="2.0" fill="#231f20"/>
<circle cx="509.11" cy="1556.80" r="2.0" fill="#231f20"/>
<circle cx="520.61" cy="1556.80" r="2.0" fill="#231f20"/>
<circle cx="532.10" cy="1556.80" r="2.0" fill="#231f20"/>
<circle cx="543.60" cy="1556.80" r="2.0" fill="#231f20"/>
<circle cx="555.09" cy="1556.80" r="2.0" fill="#231f20"/>
<circle cx="566.58" cy="1556.80" r="2.0" fill="#231f20"/>
<circle cx="578.08" cy="1556.80" r="2.0" fill="#231f20"/>
<circle cx="589.57" cy="1556.80" r="2.0" fill="#231f20"/>
<circle cx="601.07" cy="1556.80" r="2.0" fill="#231f20"/>
<circle cx="612.56" cy="1556.80" r="2.0" fill="#231f20"/>
<circle cx="624.05" cy="1556.80" r="2.0" fill="#231f20"/>
<circle cx="635.55" cy="1556.80" r="2.0" fill="#231f20"/>
<circle cx="647.04" cy="1556.80" r="2.0" fill="#231f20"/>
<circle cx="658.54" cy="1556.80" r="2.0" fill="#231f20"/>
<circle cx="670.03" cy="1556.80" r="2.0" fill="#231f20"/>
<circle cx="681.52" cy="1556.80" r="2.0" fill="#231f20"/>
<circle cx="693.02" cy="1556.80" r="2.0" fill="#231f20"/>
<circle cx="704.51" cy="1556.80" r="2.0" fill="#231f20"/>
<circle cx="716.01" cy="1556.80" r="2.0" fill="#231f20"/>
<circle cx="727.50" cy="1556.80" r="2.0" fill="#231f20"/>
<circle cx="738.99" cy="1556.80" r="2.0" fill="#231f20"/>
<circle cx="750.49" cy="1556.80" r="2.0" fill="#231f20"/>
<circle cx="761.98" cy="1556.80" r="2.0" fill="#231f20"/>
<circle cx="773.48" cy="1556.80" r="2.0" fill="#231f20"/>
<circle cx="784.97" cy="1556.80" r="2.0" fill="#231f20"/>
<circle cx="796.46" cy="1556.80" r="2.0" fill="#231f20"/>
<circle cx="807.96" cy="1556.80" r="2.0" fill="#231f20"/>
<circle cx="819.45" cy="1556.80" r="2.0" fill="#231f20"/>
<circle cx="830.95" cy="1556.80" r="2.0" fill="#231f20"/>
<circle cx="842.44" cy="1556.80" r="2.0" fill="#231f20"/>
<circle cx="853.93" cy="1556.80" r="2.0" fill="#231f20"/>
<circle cx="865.43" cy="1556.80" r="2.0" fill="#231f20"/>
<circle cx="876.92" cy="1556.80" r="2.0" fill="#231f20"/>
<circle cx="888.42" cy="1556.80" r="2.0" fill="#231f20"/>
<circle cx="899.91" cy="1556.80" r="2.0" fill="#231f20"/>
<line x1="236.60" y1="1556.20" x2="236.60" y2="1573.00" stroke="#231f20" stroke-width="1.9" />
<line x1="380.60" y1="1556.20" x2="380.60" y2="1573.00" stroke="#231f20" stroke-width="1.9" />
<line x1="524.50" y1="1556.20" x2="524.50" y2="1573.00" stroke="#231f20" stroke-width="1.9" />
<line x1="668.00" y1="1556.20" x2="668.00" y2="1573.00" stroke="#231f20" stroke-width="1.9" />
<line x1="812.00" y1="1556.20" x2="812.00" y2="1573.00" stroke="#231f20" stroke-width="1.9" />
<text transform="translate(245.30 1601.40) rotate(-36.7)" font-size="29.1" font-weight="bold" text-anchor="end" fill="#231f20"  stroke="#231f20" stroke-width="0.5" stroke-linejoin="round">PBS</text>
<text transform="translate(389.30 1601.40) rotate(-36.7)" font-size="29.1" font-weight="bold" text-anchor="end" fill="#231f20"  stroke="#231f20" stroke-width="0.5" stroke-linejoin="round">Control Af</text>
<text transform="translate(533.20 1601.40) rotate(-36.7)" font-size="29.1" font-weight="bold" text-anchor="end" fill="#231f20"  stroke="#231f20" stroke-width="0.5" stroke-linejoin="round">Af+BRI 50mg/kg</text>
<text transform="translate(676.70 1601.40) rotate(-36.7)" font-size="29.1" font-weight="bold" text-anchor="end" fill="#231f20"  stroke="#231f20" stroke-width="0.5" stroke-linejoin="round">Af+CAS 1mg/kg</text>
<text transform="translate(824.00 1599.20) rotate(-36.7)" font-size="29.1" font-weight="bold" text-anchor="end" fill="#231f20"  stroke="#231f20" stroke-width="0.5" stroke-linejoin="round">Af+BRI 50mg/kg+CAS 1mg/kg</text>
<line x1="380.80" y1="1122.50" x2="380.80" y2="1194.20" stroke="#231f20" stroke-width="1.7" />
<line x1="369.00" y1="1122.50" x2="392.60" y2="1122.50" stroke="#231f20" stroke-width="1.8" />
<line x1="369.00" y1="1194.20" x2="392.60" y2="1194.20" stroke="#231f20" stroke-width="1.8" />
<line x1="524.50" y1="1338.20" x2="524.50" y2="1399.00" stroke="#231f20" stroke-width="1.7" />
<line x1="512.70" y1="1338.20" x2="536.30" y2="1338.20" stroke="#231f20" stroke-width="1.8" />
<line x1="512.70" y1="1399.00" x2="536.30" y2="1399.00" stroke="#231f20" stroke-width="1.8" />
<line x1="668.20" y1="1342.50" x2="668.20" y2="1385.70" stroke="#231f20" stroke-width="1.7" />
<line x1="656.40" y1="1342.50" x2="680.00" y2="1342.50" stroke="#231f20" stroke-width="1.8" />
<line x1="656.40" y1="1385.70" x2="680.00" y2="1385.70" stroke="#231f20" stroke-width="1.8" />
<line x1="812.00" y1="1533.00" x2="812.00" y2="1572.00" stroke="#231f20" stroke-width="1.7" />
<line x1="800.20" y1="1540.00" x2="823.80" y2="1540.00" stroke="#231f20" stroke-width="1.8" />
<line x1="800.20" y1="1554.00" x2="823.80" y2="1554.00" stroke="#231f20" stroke-width="1.8" />
<circle cx="380.80" cy="1105.50" r="1.9" fill="#231f20"/>
<circle cx="380.80" cy="1118.70" r="1.9" fill="#231f20"/>
<circle cx="380.80" cy="1133.00" r="1.9" fill="#231f20"/>
<circle cx="380.80" cy="1139.50" r="1.9" fill="#231f20"/>
<circle cx="380.80" cy="1152.50" r="1.9" fill="#231f20"/>
<circle cx="380.80" cy="1166.70" r="1.9" fill="#231f20"/>
<circle cx="380.80" cy="1183.70" r="1.9" fill="#231f20"/>
<circle cx="380.80" cy="1190.70" r="1.9" fill="#231f20"/>
<circle cx="380.80" cy="1223.70" r="1.9" fill="#231f20"/>
<circle cx="524.50" cy="1297.50" r="1.9" fill="#231f20"/>
<circle cx="524.50" cy="1348.70" r="1.9" fill="#231f20"/>
<circle cx="524.50" cy="1355.00" r="1.9" fill="#231f20"/>
<circle cx="524.50" cy="1362.00" r="1.9" fill="#231f20"/>
<circle cx="524.50" cy="1373.00" r="1.9" fill="#231f20"/>
<circle cx="524.50" cy="1382.00" r="1.9" fill="#231f20"/>
<circle cx="524.50" cy="1389.50" r="1.9" fill="#231f20"/>
<circle cx="524.50" cy="1393.70" r="1.9" fill="#231f20"/>
<circle cx="524.50" cy="1402.50" r="1.9" fill="#231f20"/>
<circle cx="668.20" cy="1340.00" r="1.9" fill="#231f20"/>
<circle cx="668.20" cy="1347.00" r="1.9" fill="#231f20"/>
<circle cx="668.20" cy="1353.70" r="1.9" fill="#231f20"/>
<circle cx="668.20" cy="1360.00" r="1.9" fill="#231f20"/>
<circle cx="668.20" cy="1366.00" r="1.9" fill="#231f20"/>
<circle cx="668.20" cy="1381.00" r="1.9" fill="#231f20"/>
<circle cx="668.20" cy="1395.70" r="1.9" fill="#231f20"/>
<circle cx="668.20" cy="1398.30" r="1.9" fill="#231f20"/>
<circle cx="812.00" cy="1533.70" r="1.9" fill="#231f20"/>
<circle cx="812.00" cy="1537.50" r="1.9" fill="#231f20"/>
<circle cx="812.00" cy="1541.50" r="1.9" fill="#231f20"/>
<circle cx="812.00" cy="1545.00" r="1.9" fill="#231f20"/>
<circle cx="812.00" cy="1548.50" r="1.9" fill="#231f20"/>
<circle cx="812.00" cy="1552.50" r="1.9" fill="#231f20"/>
<circle cx="236.60" cy="1554.90" r="1.9" fill="#231f20"/>
<polyline fill="none" stroke="#231f20" stroke-width="1.8" points="379.40,1081.20 379.40,1051.20 813.70,1051.20 813.70,1081.20"/>
<line x1="525.50" y1="1051.20" x2="525.50" y2="1081.20" stroke="#231f20" stroke-width="1.8" />
<line x1="670.00" y1="1051.20" x2="670.00" y2="1081.20" stroke="#231f20" stroke-width="1.8" />
<polyline fill="none" stroke="#231f20" stroke-width="1.8" points="526.70,1251.70 526.70,1225.00 813.40,1225.00 813.40,1251.70"/>
<polyline fill="none" stroke="#231f20" stroke-width="1.8" points="668.20,1325.50 668.20,1299.00 813.70,1299.00 813.70,1325.50"/>
<text transform="translate(612.70 1036.10) scale(1 0.78)" font-size="27" text-anchor="middle" fill="#231f20"  stroke="#231f20" stroke-width="0.8" stroke-linejoin="round">****</text>
<text transform="translate(663.20 1215.10) scale(1 0.78)" font-size="27" text-anchor="middle" fill="#231f20"  stroke="#231f20" stroke-width="0.8" stroke-linejoin="round">****</text>
<text transform="translate(752.20 1289.30) scale(1 0.78)" font-size="27" text-anchor="middle" fill="#231f20"  stroke="#231f20" stroke-width="0.8" stroke-linejoin="round">****</text>
</g>
<g id="table">
<rect x="930.80" y="1074.80" width="1067.60" height="42.20" fill="#dcddde"/>
<line x1="1429.40" y1="1117.00" x2="1429.40" y2="1541.40" stroke="#d4d5d7" stroke-width="1.2" />
<line x1="1621.40" y1="1117.00" x2="1621.40" y2="1541.40" stroke="#d4d5d7" stroke-width="1.2" />
<line x1="1789.40" y1="1117.00" x2="1789.40" y2="1541.40" stroke="#d4d5d7" stroke-width="1.2" />
<line x1="930.80" y1="1159.30" x2="1998.40" y2="1159.30" stroke="#d4d5d7" stroke-width="1.2" />
<line x1="930.80" y1="1202.00" x2="1998.40" y2="1202.00" stroke="#d4d5d7" stroke-width="1.2" />
<line x1="930.80" y1="1244.50" x2="1998.40" y2="1244.50" stroke="#d4d5d7" stroke-width="1.2" />
<line x1="930.80" y1="1371.60" x2="1998.40" y2="1371.60" stroke="#d4d5d7" stroke-width="1.2" />
<line x1="930.80" y1="1456.60" x2="1998.40" y2="1456.60" stroke="#d4d5d7" stroke-width="1.2" />
<line x1="930.80" y1="1499.30" x2="1998.40" y2="1499.30" stroke="#d4d5d7" stroke-width="1.2" />
<line x1="930.80" y1="1287.20" x2="1998.40" y2="1287.20" stroke="#47464a" stroke-width="1.4" />
<line x1="930.80" y1="1414.30" x2="1998.40" y2="1414.30" stroke="#47464a" stroke-width="1.4" />
<rect x="930.8" y="1074.8" width="1067.60" height="466.60" fill="none" stroke="#343235" stroke-width="1.25"/>
<text transform="translate(935.90 1106.30) scale(1 1.03)" font-size="28.0" font-weight="bold" fill="#231f20"  stroke="#231f20" stroke-width="0.5" stroke-linejoin="round">Comparisons test</text>
<text transform="translate(1515.00 1106.30) scale(1 1.03)" font-size="28.0" font-weight="bold" text-anchor="middle" fill="#231f20"  stroke="#231f20" stroke-width="0.5" stroke-linejoin="round">Significant?</text>
<text transform="translate(1707.00 1106.30) scale(1 1.03)" font-size="28.0" font-weight="bold" text-anchor="middle" fill="#231f20"  stroke="#231f20" stroke-width="0.5" stroke-linejoin="round">Summary</text>
<text transform="translate(1894.70 1106.30) scale(1 1.03)" font-size="28.0" font-weight="bold" text-anchor="middle" fill="#231f20"  stroke="#231f20" stroke-width="0.5" stroke-linejoin="round">P Value</text>
<text transform="translate(935.60 1149.60) scale(1 1.03)" font-size="28.0" fill="#231f20"  stroke="#231f20" stroke-width="0.4" stroke-linejoin="round">PBS</text>
<text transform="translate(1027.30 1149.60) scale(1 1.03)" font-size="28.0" font-style="italic" fill="#231f20"  stroke="#231f20" stroke-width="0.4" stroke-linejoin="round">vs.</text>
<text transform="translate(1083.50 1149.60) scale(1 1.03)" font-size="28.0" fill="#231f20"  stroke="#231f20" stroke-width="0.4" stroke-linejoin="round">Control</text>
<text transform="translate(1189.30 1149.60) scale(1 1.03)" font-size="28.0" fill="#231f20"  stroke="#231f20" stroke-width="0.4" stroke-linejoin="round">Af</text>
<text transform="translate(1526.80 1149.60) scale(1 1.03)" font-size="28.0" text-anchor="middle" fill="#231f20"  stroke="#231f20" stroke-width="0.4" stroke-linejoin="round">Yes</text>
<text transform="translate(1706.30 1145.60) scale(1 0.78)" font-size="27.4" text-anchor="middle" fill="#231f20"  stroke="#231f20" stroke-width="0.5" stroke-linejoin="round">****</text>
<text transform="translate(1892.60 1149.60) scale(1 1.03)" font-size="27.2" text-anchor="middle" fill="#231f20"  stroke="#231f20" stroke-width="0.4" stroke-linejoin="round">&lt;0.0001</text>
<text transform="translate(935.60 1192.40) scale(1 1.03)" font-size="28.0" fill="#231f20"  stroke="#231f20" stroke-width="0.4" stroke-linejoin="round">PBS</text>
<text transform="translate(1027.30 1192.40) scale(1 1.03)" font-size="28.0" font-style="italic" fill="#231f20"  stroke="#231f20" stroke-width="0.4" stroke-linejoin="round">vs.</text>
<text transform="translate(1092.40 1192.40) scale(1 1.03)" font-size="28.0" fill="#231f20"  stroke="#231f20" stroke-width="0.4" stroke-linejoin="round">Af</text>
<text transform="translate(1128.70 1192.40) scale(1 1.03)" font-size="28.0" fill="#231f20"  stroke="#231f20" stroke-width="0.4" stroke-linejoin="round">+</text>
<text transform="translate(1153.00 1192.40) scale(1 1.03)" font-size="28.0" fill="#231f20"  stroke="#231f20" stroke-width="0.4" stroke-linejoin="round">BRI</text>
<text transform="translate(1526.80 1192.40) scale(1 1.03)" font-size="28.0" text-anchor="middle" fill="#231f20"  stroke="#231f20" stroke-width="0.4" stroke-linejoin="round">Yes</text>
<text transform="translate(1706.30 1188.40) scale(1 0.78)" font-size="27.4" text-anchor="middle" fill="#231f20"  stroke="#231f20" stroke-width="0.5" stroke-linejoin="round">****</text>
<text transform="translate(1892.60 1192.40) scale(1 1.03)" font-size="27.2" text-anchor="middle" fill="#231f20"  stroke="#231f20" stroke-width="0.4" stroke-linejoin="round">&lt;0.0001</text>
<text transform="translate(935.60 1235.10) scale(1 1.03)" font-size="28.0" fill="#231f20"  stroke="#231f20" stroke-width="0.4" stroke-linejoin="round">PBS</text>
<text transform="translate(1025.40 1235.10) scale(1 1.03)" font-size="28.0" font-style="italic" fill="#231f20"  stroke="#231f20" stroke-width="0.4" stroke-linejoin="round">vs.</text>
<text transform="translate(1091.60 1235.10) scale(1 1.03)" font-size="28.0" fill="#231f20"  stroke="#231f20" stroke-width="0.4" stroke-linejoin="round">Af</text>
<text transform="translate(1127.10 1235.10) scale(1 1.03)" font-size="28.0" fill="#231f20"  stroke="#231f20" stroke-width="0.4" stroke-linejoin="round">+</text>
<text transform="translate(1151.60 1235.10) scale(1 1.03)" font-size="28.0" fill="#231f20"  stroke="#231f20" stroke-width="0.4" stroke-linejoin="round">CAS</text>
<text transform="translate(1526.80 1235.10) scale(1 1.03)" font-size="28.0" text-anchor="middle" fill="#231f20"  stroke="#231f20" stroke-width="0.4" stroke-linejoin="round">Yes</text>
<text transform="translate(1706.30 1231.10) scale(1 0.78)" font-size="27.4" text-anchor="middle" fill="#231f20"  stroke="#231f20" stroke-width="0.5" stroke-linejoin="round">****</text>
<text transform="translate(1892.60 1235.10) scale(1 1.03)" font-size="27.2" text-anchor="middle" fill="#231f20"  stroke="#231f20" stroke-width="0.4" stroke-linejoin="round">&lt;0.0001</text>
<text transform="translate(935.60 1277.60) scale(1 1.03)" font-size="28.0" fill="#231f20"  stroke="#231f20" stroke-width="0.4" stroke-linejoin="round">PBS</text>
<text transform="translate(1027.30 1277.60) scale(1 1.03)" font-size="28.0" font-style="italic" fill="#231f20"  stroke="#231f20" stroke-width="0.4" stroke-linejoin="round">vs.</text>
<text transform="translate(1093.00 1277.60) scale(1 1.03)" font-size="28.0" fill="#231f20"  stroke="#231f20" stroke-width="0.4" stroke-linejoin="round">Af</text>
<text transform="translate(1129.30 1277.60) scale(1 1.03)" font-size="28.0" fill="#231f20"  stroke="#231f20" stroke-width="0.4" stroke-linejoin="round">+</text>
<text transform="translate(1153.20 1277.60) scale(1 1.03)" font-size="28.0" fill="#231f20"  stroke="#231f20" stroke-width="0.4" stroke-linejoin="round">CAS</text>
<text transform="translate(1218.40 1277.60) scale(1 1.03)" font-size="28.0" fill="#231f20"  stroke="#231f20" stroke-width="0.4" stroke-linejoin="round">+</text>
<text transform="translate(1242.20 1277.60) scale(1 1.03)" font-size="28.0" fill="#231f20"  stroke="#231f20" stroke-width="0.4" stroke-linejoin="round">BRI</text>
<text transform="translate(1526.80 1277.60) scale(1 1.03)" font-size="28.0" text-anchor="middle" fill="#231f20"  stroke="#231f20" stroke-width="0.4" stroke-linejoin="round">No</text>
<text transform="translate(1706.30 1277.60) scale(1 1.03)" font-size="28.0" text-anchor="middle" fill="#231f20"  stroke="#231f20" stroke-width="0.4" stroke-linejoin="round">ns</text>
<text transform="translate(1893.80 1277.60) scale(1 1.03)" font-size="27.2" text-anchor="middle" fill="#231f20"  stroke="#231f20" stroke-width="0.4" stroke-linejoin="round">0.9135</text>
<text transform="translate(935.90 1319.50) scale(1 1.03)" font-size="28.0" font-weight="bold" fill="#231f20"  stroke="#231f20" stroke-width="0.5" stroke-linejoin="round">Control</text>
<text transform="translate(1051.90 1319.50) scale(1 1.03)" font-size="28.0" font-weight="bold" fill="#231f20"  stroke="#231f20" stroke-width="0.5" stroke-linejoin="round">Af</text>
<text transform="translate(1120.00 1319.50) scale(1 1.03)" font-size="28.0" font-weight="bold" font-style="italic" fill="#231f20"  stroke="#231f20" stroke-width="0.5" stroke-linejoin="round">vs.</text>
<text transform="translate(1185.60 1319.50) scale(1 1.03)" font-size="28.0" font-weight="bold" fill="#231f20"  stroke="#231f20" stroke-width="0.5" stroke-linejoin="round">Af</text>
<text transform="translate(1225.90 1319.50) scale(1 1.03)" font-size="28.0" font-weight="bold" fill="#231f20"  stroke="#231f20" stroke-width="0.5" stroke-linejoin="round">+</text>
<text transform="translate(1250.30 1319.50) scale(1 1.03)" font-size="28.0" font-weight="bold" fill="#231f20"  stroke="#231f20" stroke-width="0.5" stroke-linejoin="round">BRI</text>
<text transform="translate(1526.80 1319.50) scale(1 1.03)" font-size="28.0" font-weight="bold" text-anchor="middle" fill="#231f20"  stroke="#231f20" stroke-width="0.5" stroke-linejoin="round">Yes</text>
<text transform="translate(1706.30 1315.50) scale(1 0.78)" font-size="27.4" text-anchor="middle" fill="#231f20"  stroke="#231f20" stroke-width="0.5" stroke-linejoin="round">****</text>
<text transform="translate(1892.60 1319.50) scale(1 1.03)" font-size="27.2" font-weight="bold" text-anchor="middle" fill="#231f20"  stroke="#231f20" stroke-width="0.5" stroke-linejoin="round">&lt;0.0001</text>
<text transform="translate(935.90 1361.40) scale(1 1.03)" font-size="28.0" font-weight="bold" fill="#231f20"  stroke="#231f20" stroke-width="0.5" stroke-linejoin="round">Control</text>
<text transform="translate(1051.90 1361.40) scale(1 1.03)" font-size="28.0" font-weight="bold" fill="#231f20"  stroke="#231f20" stroke-width="0.5" stroke-linejoin="round">Af</text>
<text transform="translate(1120.00 1361.40) scale(1 1.03)" font-size="28.0" font-weight="bold" font-style="italic" fill="#231f20"  stroke="#231f20" stroke-width="0.5" stroke-linejoin="round">vs.</text>
<text transform="translate(1184.80 1361.40) scale(1 1.03)" font-size="28.0" font-weight="bold" fill="#231f20"  stroke="#231f20" stroke-width="0.5" stroke-linejoin="round">Af</text>
<text transform="translate(1223.30 1361.40) scale(1 1.03)" font-size="28.0" font-weight="bold" fill="#231f20"  stroke="#231f20" stroke-width="0.5" stroke-linejoin="round">+</text>
<text transform="translate(1247.70 1361.40) scale(1 1.03)" font-size="28.0" font-weight="bold" fill="#231f20"  stroke="#231f20" stroke-width="0.5" stroke-linejoin="round">CAS</text>
<text transform="translate(1526.80 1361.40) scale(1 1.03)" font-size="28.0" font-weight="bold" text-anchor="middle" fill="#231f20"  stroke="#231f20" stroke-width="0.5" stroke-linejoin="round">Yes</text>
<text transform="translate(1706.30 1357.40) scale(1 0.78)" font-size="27.4" text-anchor="middle" fill="#231f20"  stroke="#231f20" stroke-width="0.5" stroke-linejoin="round">****</text>
<text transform="translate(1892.60 1361.40) scale(1 1.03)" font-size="27.2" font-weight="bold" text-anchor="middle" fill="#231f20"  stroke="#231f20" stroke-width="0.5" stroke-linejoin="round">&lt;0.0001</text>
<text transform="translate(935.60 1403.80) scale(1 1.03)" font-size="28.0" font-weight="bold" fill="#231f20"  stroke="#231f20" stroke-width="0.5" stroke-linejoin="round">Control</text>
<text transform="translate(1051.50 1403.80) scale(1 1.03)" font-size="28.0" font-weight="bold" fill="#231f20"  stroke="#231f20" stroke-width="0.5" stroke-linejoin="round">Af</text>
<text transform="translate(1119.50 1403.80) scale(1 1.03)" font-size="28.0" font-weight="bold" font-style="italic" fill="#231f20"  stroke="#231f20" stroke-width="0.5" stroke-linejoin="round">vs.</text>
<text transform="translate(1184.00 1403.80) scale(1 1.03)" font-size="28.0" font-weight="bold" fill="#231f20"  stroke="#231f20" stroke-width="0.5" stroke-linejoin="round">Af</text>
<text transform="translate(1222.50 1403.80) scale(1 1.03)" font-size="28.0" font-weight="bold" fill="#231f20"  stroke="#231f20" stroke-width="0.5" stroke-linejoin="round">+</text>
<text transform="translate(1247.00 1403.80) scale(1 1.03)" font-size="28.0" font-weight="bold" fill="#231f20"  stroke="#231f20" stroke-width="0.5" stroke-linejoin="round">CAS</text>
<text transform="translate(1313.50 1403.80) scale(1 1.03)" font-size="28.0" font-weight="bold" fill="#231f20"  stroke="#231f20" stroke-width="0.5" stroke-linejoin="round">+</text>
<text transform="translate(1337.60 1403.80) scale(1 1.03)" font-size="28.0" font-weight="bold" fill="#231f20"  stroke="#231f20" stroke-width="0.5" stroke-linejoin="round">BRI</text>
<text transform="translate(1526.80 1403.80) scale(1 1.03)" font-size="28.0" font-weight="bold" text-anchor="middle" fill="#231f20"  stroke="#231f20" stroke-width="0.5" stroke-linejoin="round">Yes</text>
<text transform="translate(1706.30 1399.80) scale(1 0.78)" font-size="27.4" text-anchor="middle" fill="#231f20"  stroke="#231f20" stroke-width="0.5" stroke-linejoin="round">****</text>
<text transform="translate(1892.60 1403.80) scale(1 1.03)" font-size="27.2" font-weight="bold" text-anchor="middle" fill="#231f20"  stroke="#231f20" stroke-width="0.5" stroke-linejoin="round">&lt;0.0001</text>
<text transform="translate(936.20 1447.50) scale(1 1.03)" font-size="28.0" fill="#231f20"  stroke="#231f20" stroke-width="0.4" stroke-linejoin="round">Af</text>
<text transform="translate(971.70 1447.50) scale(1 1.03)" font-size="28.0" fill="#231f20"  stroke="#231f20" stroke-width="0.4" stroke-linejoin="round">+</text>
<text transform="translate(995.80 1447.50) scale(1 1.03)" font-size="28.0" fill="#231f20"  stroke="#231f20" stroke-width="0.4" stroke-linejoin="round">BRI</text>
<text transform="translate(1093.60 1447.50) scale(1 1.03)" font-size="28.0" font-style="italic" fill="#231f20"  stroke="#231f20" stroke-width="0.4" stroke-linejoin="round">vs.</text>
<text transform="translate(1160.80 1447.50) scale(1 1.03)" font-size="28.0" fill="#231f20"  stroke="#231f20" stroke-width="0.4" stroke-linejoin="round">Af</text>
<text transform="translate(1197.10 1447.50) scale(1 1.03)" font-size="28.0" fill="#231f20"  stroke="#231f20" stroke-width="0.4" stroke-linejoin="round">+</text>
<text transform="translate(1221.10 1447.50) scale(1 1.03)" font-size="28.0" fill="#231f20"  stroke="#231f20" stroke-width="0.4" stroke-linejoin="round">CAS</text>
<text transform="translate(1526.80 1447.50) scale(1 1.03)" font-size="28.0" text-anchor="middle" fill="#231f20"  stroke="#231f20" stroke-width="0.4" stroke-linejoin="round">No</text>
<text transform="translate(1706.30 1447.50) scale(1 1.03)" font-size="28.0" text-anchor="middle" fill="#231f20"  stroke="#231f20" stroke-width="0.4" stroke-linejoin="round">ns</text>
<text transform="translate(1893.80 1447.50) scale(1 1.03)" font-size="27.2" text-anchor="middle" fill="#231f20"  stroke="#231f20" stroke-width="0.4" stroke-linejoin="round">0.9939</text>
<text transform="translate(937.00 1489.10) scale(1 1.03)" font-size="28.0" font-weight="bold" fill="#231f20"  stroke="#231f20" stroke-width="0.5" stroke-linejoin="round">Af</text>
<text transform="translate(975.70 1489.10) scale(1 1.03)" font-size="28.0" font-weight="bold" fill="#231f20"  stroke="#231f20" stroke-width="0.5" stroke-linejoin="round">+</text>
<text transform="translate(1000.40 1489.10) scale(1 1.03)" font-size="28.0" font-weight="bold" fill="#231f20"  stroke="#231f20" stroke-width="0.5" stroke-linejoin="round">BRI</text>
<text transform="translate(1091.50 1489.10) scale(1 1.03)" font-size="28.0" font-weight="bold" font-style="italic" fill="#231f20"  stroke="#231f20" stroke-width="0.5" stroke-linejoin="round">vs</text>
<text transform="translate(1122.50 1489.10) scale(1 1.03)" font-size="28.0" font-weight="bold" fill="#231f20"  stroke="#231f20" stroke-width="0.5" stroke-linejoin="round">.</text>
<text transform="translate(1156.30 1489.10) scale(1 1.03)" font-size="28.0" font-weight="bold" fill="#231f20"  stroke="#231f20" stroke-width="0.5" stroke-linejoin="round">Af</text>
<text transform="translate(1194.50 1489.10) scale(1 1.03)" font-size="28.0" font-weight="bold" fill="#231f20"  stroke="#231f20" stroke-width="0.5" stroke-linejoin="round">+</text>
<text transform="translate(1219.20 1489.10) scale(1 1.03)" font-size="28.0" font-weight="bold" fill="#231f20"  stroke="#231f20" stroke-width="0.5" stroke-linejoin="round">CAS</text>
<text transform="translate(1285.70 1489.10) scale(1 1.03)" font-size="28.0" font-weight="bold" fill="#231f20"  stroke="#231f20" stroke-width="0.5" stroke-linejoin="round">+</text>
<text transform="translate(1310.00 1489.10) scale(1 1.03)" font-size="28.0" font-weight="bold" fill="#231f20"  stroke="#231f20" stroke-width="0.5" stroke-linejoin="round">BRI</text>
<text transform="translate(1526.80 1489.10) scale(1 1.03)" font-size="28.0" font-weight="bold" text-anchor="middle" fill="#231f20"  stroke="#231f20" stroke-width="0.5" stroke-linejoin="round">Yes</text>
<text transform="translate(1708.70 1485.10) scale(1 0.78)" font-size="27.4" text-anchor="middle" fill="#231f20"  stroke="#231f20" stroke-width="0.5" stroke-linejoin="round">****</text>
<text transform="translate(1890.80 1489.10) scale(1 1.03)" font-size="27.2" font-weight="bold" text-anchor="middle" fill="#231f20"  stroke="#231f20" stroke-width="0.5" stroke-linejoin="round">&lt;0.0001</text>
<text transform="translate(936.20 1531.20) scale(1 1.03)" font-size="28.0" font-weight="bold" fill="#231f20"  stroke="#231f20" stroke-width="0.5" stroke-linejoin="round">Af</text>
<text transform="translate(973.90 1531.20) scale(1 1.03)" font-size="28.0" font-weight="bold" fill="#231f20"  stroke="#231f20" stroke-width="0.5" stroke-linejoin="round">+</text>
<text transform="translate(998.90 1531.20) scale(1 1.03)" font-size="28.0" font-weight="bold" fill="#231f20"  stroke="#231f20" stroke-width="0.5" stroke-linejoin="round">CAS</text>
<text transform="translate(1093.60 1531.20) scale(1 1.03)" font-size="28.0" font-weight="bold" font-style="italic" fill="#231f20"  stroke="#231f20" stroke-width="0.5" stroke-linejoin="round">vs</text>
<text transform="translate(1124.50 1531.20) scale(1 1.03)" font-size="28.0" font-weight="bold" fill="#231f20"  stroke="#231f20" stroke-width="0.5" stroke-linejoin="round">.</text>
<text transform="translate(1158.40 1531.20) scale(1 1.03)" font-size="28.0" font-weight="bold" fill="#231f20"  stroke="#231f20" stroke-width="0.5" stroke-linejoin="round">Af</text>
<text transform="translate(1196.50 1531.20) scale(1 1.03)" font-size="28.0" font-weight="bold" fill="#231f20"  stroke="#231f20" stroke-width="0.5" stroke-linejoin="round">+</text>
<text transform="translate(1221.70 1531.20) scale(1 1.03)" font-size="28.0" font-weight="bold" fill="#231f20"  stroke="#231f20" stroke-width="0.5" stroke-linejoin="round">CAS</text>
<text transform="translate(1288.50 1531.20) scale(1 1.03)" font-size="28.0" font-weight="bold" fill="#231f20"  stroke="#231f20" stroke-width="0.5" stroke-linejoin="round">+</text>
<text transform="translate(1312.20 1531.20) scale(1 1.03)" font-size="28.0" font-weight="bold" fill="#231f20"  stroke="#231f20" stroke-width="0.5" stroke-linejoin="round">BRI</text>
<text transform="translate(1526.80 1531.20) scale(1 1.03)" font-size="28.0" font-weight="bold" text-anchor="middle" fill="#231f20"  stroke="#231f20" stroke-width="0.5" stroke-linejoin="round">Yes</text>
<text transform="translate(1706.30 1527.20) scale(1 0.78)" font-size="27.4" text-anchor="middle" fill="#231f20"  stroke="#231f20" stroke-width="0.5" stroke-linejoin="round">****</text>
<text transform="translate(1892.60 1531.20) scale(1 1.03)" font-size="27.2" font-weight="bold" text-anchor="middle" fill="#231f20"  stroke="#231f20" stroke-width="0.5" stroke-linejoin="round">&lt;0.0001</text>
</g>
</svg>
</body></html>
